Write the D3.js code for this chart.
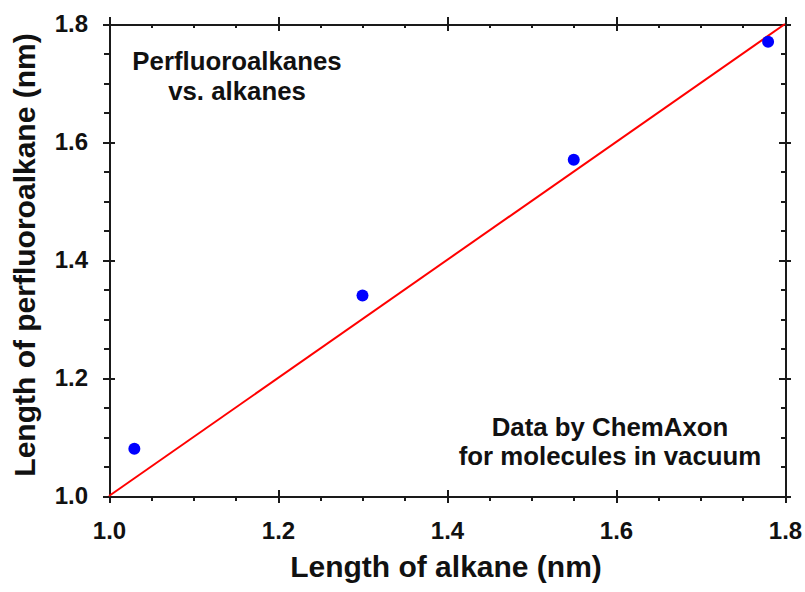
<!DOCTYPE html>
<html>
<head>
<meta charset="utf-8">
<script src="https://d3js.org/d3.v7.min.js"></script>
<style>
  html, body { margin: 0; padding: 0; background: #fff; }
  svg { display: block; font-family: "Liberation Sans", Arial, sans-serif; }
  .axis path, .axis line { stroke: #1a1a1a; stroke-width: 2px; shape-rendering: crispEdges; }
  .axis text { font-size: 24px; font-weight: bold; fill: #111; font-family: "Liberation Sans", Arial, sans-serif; }
</style>
</head>
<body>
<svg id="chart" width="805" height="592"></svg>
<script>
// Molecular lengths (nm): alkane vs. matching perfluoroalkane
const alkaneLength = [1.03, 1.30, 1.55, 1.78];
const perfluoroLength = [1.08, 1.34, 1.57, 1.77];

// Reference line y = x
const identityLine = [1.0, 1.8];

// Axis ticks
const majorTicks = [1.0, 1.2, 1.4, 1.6, 1.8];
const minorTicks = [1.05, 1.1, 1.15, 1.25, 1.3, 1.35, 1.45, 1.5, 1.55, 1.65, 1.7, 1.75];

const svg = d3.select("#chart");
const plotLeft = 109, plotRight = 785, plotTop = 24, plotBottom = 496;

const x = d3.scaleLinear().domain([1.0, 1.8]).range([plotLeft, plotRight]);
const y = d3.scaleLinear().domain([1.0, 1.8]).range([plotBottom, plotTop]);

const fmt = d3.format(".1f");

function addAxis(gen, tx, ty, labelled) {
  const g = svg.append("g").attr("class", "axis")
    .attr("transform", `translate(${tx},${ty})`)
    .call(gen);
  if (!labelled) g.selectAll("text").remove();
  return g;
}

// Bottom axis: major ticks crossing the line, minor ticks outward
addAxis(d3.axisBottom(x).tickValues(majorTicks).tickFormat(fmt).tickSizeInner(7).tickSizeOuter(0).tickPadding(19), 0, plotBottom, true);
addAxis(d3.axisBottom(x).tickValues(majorTicks).tickSizeInner(-6).tickSizeOuter(0), 0, plotBottom, false).select(".domain").remove();
addAxis(d3.axisBottom(x).tickValues(minorTicks).tickSizeInner(5).tickSizeOuter(0), 0, plotBottom, false).select(".domain").remove();

// Top mirror axis
addAxis(d3.axisBottom(x).tickValues(majorTicks).tickSizeInner(7).tickSizeOuter(0), 0, plotTop, false);
addAxis(d3.axisBottom(x).tickValues(majorTicks).tickSizeInner(-7).tickSizeOuter(0), 0, plotTop, false).select(".domain").remove();
addAxis(d3.axisBottom(x).tickValues(minorTicks).tickSizeInner(4).tickSizeOuter(0), 0, plotTop, false).select(".domain").remove();

// Left axis
addAxis(d3.axisLeft(y).tickValues(majorTicks).tickFormat(fmt).tickSizeInner(6).tickSizeOuter(0).tickPadding(15), plotLeft, 0, true);
addAxis(d3.axisLeft(y).tickValues(majorTicks).tickSizeInner(-6).tickSizeOuter(0), plotLeft, 0, false).select(".domain").remove();
addAxis(d3.axisLeft(y).tickValues(minorTicks).tickSizeInner(5).tickSizeOuter(0), plotLeft, 0, false).select(".domain").remove();

// Right mirror axis
addAxis(d3.axisLeft(y).tickValues(majorTicks).tickSizeInner(6).tickSizeOuter(0), plotRight, 0, false);
addAxis(d3.axisLeft(y).tickValues(majorTicks).tickSizeInner(-6).tickSizeOuter(0), plotRight, 0, false).select(".domain").remove();
addAxis(d3.axisLeft(y).tickValues(minorTicks).tickSizeInner(4).tickSizeOuter(0), plotRight, 0, false).select(".domain").remove();

// y = x line
svg.append("line")
  .attr("x1", x(identityLine[0])).attr("y1", y(identityLine[0]))
  .attr("x2", x(identityLine[1])).attr("y2", y(identityLine[1]))
  .attr("stroke", "#ff0000").attr("stroke-width", 2);

// Data points
svg.append("g").selectAll("circle")
  .data(alkaneLength.map((a, i) => [a, perfluoroLength[i]]))
  .join("circle")
  .attr("cx", d => x(d[0]))
  .attr("cy", d => y(d[1]))
  .attr("r", 6)
  .attr("fill", "#0000ff");

// Axis titles
svg.append("text")
  .attr("x", 446).attr("y", 577)
  .attr("text-anchor", "middle")
  .attr("font-size", 30).attr("font-weight", "bold").attr("fill", "#111")
  .text("Length of alkane (nm)");

svg.append("text")
  .attr("transform", "translate(35,255) rotate(-90)")
  .attr("text-anchor", "middle")
  .attr("font-size", 30).attr("font-weight", "bold").attr("fill", "#111")
  .text("Length of perfluoroalkane (nm)");

// Annotations
const notes = [
  { x: 237, y: 70, t: "Perfluoroalkanes" },
  { x: 237, y: 100, t: "vs. alkanes" },
  { x: 610, y: 436, t: "Data by ChemAxon" },
  { x: 610, y: 465, t: "for molecules in vacuum" }
];
svg.append("g").selectAll("text")
  .data(notes)
  .join("text")
  .attr("x", d => d.x).attr("y", d => d.y)
  .attr("text-anchor", "middle")
  .attr("font-size", 25.8).attr("font-weight", "bold").attr("fill", "#111")
  .text(d => d.t);
</script>
</body>
</html>
